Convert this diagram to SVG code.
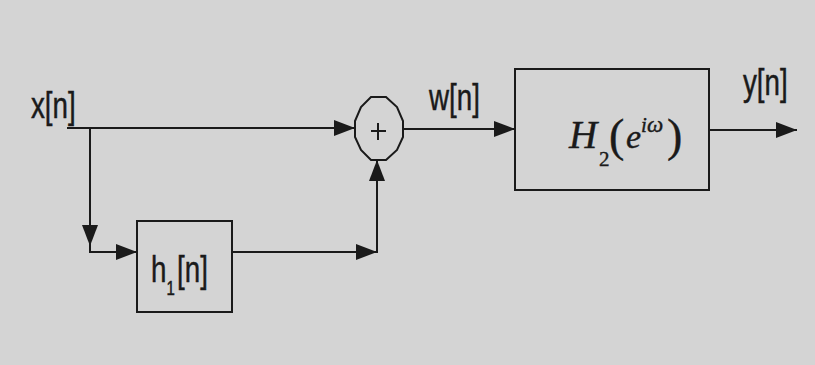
<svg xmlns="http://www.w3.org/2000/svg" width="815" height="365" viewBox="0 0 815 365">
  <style>
    .bg { fill: #d4d4d4; }
    .box { fill: none; stroke: #1a1a1a; stroke-width: 2; }
    .wire { fill: none; stroke: #1a1a1a; stroke-width: 2; }
    .lbl { font-family: "Liberation Sans", Arial, sans-serif; font-size: 37px; fill: #1a1a1a; stroke: #1a1a1a; stroke-width: 0.5; }
    .math { font-family: "Liberation Serif", "Times New Roman", serif; fill: #1a1a1a; stroke: #1a1a1a; stroke-width: 0.4; }
  </style>
  <defs>
    <marker id="arrow" markerUnits="userSpaceOnUse" markerWidth="24" markerHeight="18" refX="21" refY="8" orient="auto">
      <polygon points="0,0 21,8 0,16" fill="#1a1a1a"/>
    </marker>
  </defs>

  <rect class="bg" x="0" y="0" width="815" height="365"/>

  <g id="label-x">
    <text class="lbl" transform="translate(31,118) scale(0.75,1)">x[n]</text>
  </g>

  <g id="h1">
    <rect class="box" x="137" y="221" width="95" height="91"/>
    <text class="lbl" transform="translate(151,282) scale(0.75,1)">h<tspan font-size="20" dy="13">1</tspan><tspan dx="3" dy="-13">[n]</tspan></text>
  </g>

  <g id="adder">
    <polygon class="box" points="371,97 386,97 397,107 403,121 403,137 397,150 386,160 371,160 361,150 355,137 355,121 361,107"/>
    <path class="wire" d="M371,131 H386 M378,123 V140" stroke-width="2.5"/>
  </g>

  <g id="label-w">
    <text class="lbl" transform="translate(429,110) scale(0.75,1)">w[n]</text>
  </g>

  <g id="H2">
    <rect class="box" x="515" y="69" width="194" height="121"/>
    <text class="math" font-style="italic" font-size="39" x="569" y="148">H</text>
    <text class="math" font-size="21" x="599" y="166">2</text>
    <text class="math" font-size="46" x="609" y="151">(</text>
    <text class="math" font-style="italic" font-size="34" x="626" y="148">e</text>
    <text class="math" font-style="italic" font-size="21" x="641" y="132">i</text>
    <text class="math" font-style="italic" font-size="23" x="647" y="132">ω</text>
    <text class="math" font-size="46" x="667" y="151">)</text>
  </g>

  <g id="label-y">
    <text class="lbl" transform="translate(743,95) scale(0.75,1)">y[n]</text>
  </g>

  <g id="connectors">
    <path class="wire" d="M67,128 H355" marker-end="url(#arrow)"/>
    <path class="wire" d="M90,128 V246" marker-end="url(#arrow)"/>
    <path class="wire" d="M90,244 V252 H137" marker-end="url(#arrow)"/>
    <path class="wire" d="M232,252 H377" marker-end="url(#arrow)"/>
    <path class="wire" d="M377,253 V160" marker-end="url(#arrow)"/>
    <path class="wire" d="M403,129 H515" marker-end="url(#arrow)"/>
    <path class="wire" d="M709,130 H797" marker-end="url(#arrow)"/>
  </g>
</svg>
